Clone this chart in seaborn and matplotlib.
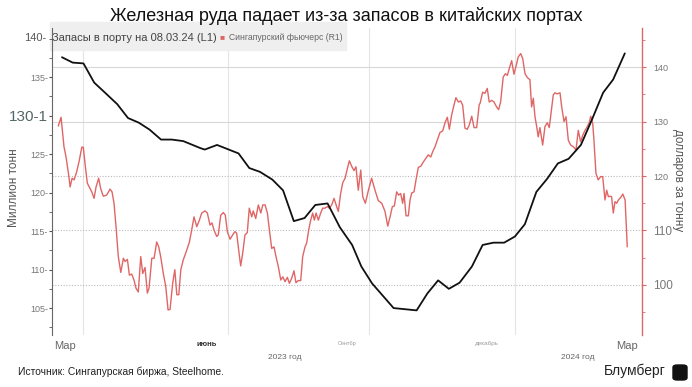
import matplotlib.pyplot as plt
from matplotlib.ticker import MultipleLocator
from matplotlib.patches import Rectangle, FancyBboxPatch
import seaborn as sns
import pandas as pd

# days are counted from 1 March 2023
stock_days = [-2, 5, 12, 19, 26, 34, 41, 48, 55, 62.5, 69.5, 77, 88, 91, 99, 113, 120, 127,
              135, 142, 149, 156, 163, 171, 179, 187, 193, 200, 207, 214, 229, 236, 243, 250,
              257, 265, 272, 279, 286, 293, 299.5, 307, 314, 321, 328, 336, 343, 350.5, 357, 364.6]
stock_values = [137.6, 136.9, 136.8, 134.3, 133.0, 131.5, 129.7, 129.1, 128.2, 126.9, 126.9, 126.7,
                125.8, 125.6, 126.2, 125.1, 123.2, 122.7, 121.7, 120.3, 116.3, 116.7, 118.4, 118.6,
                115.5, 113.2, 110.4, 108.2, 106.6, 105.0, 104.7, 106.9, 108.6, 107.5, 108.3, 110.4,
                113.2, 113.5, 113.5, 114.3, 115.9, 120.1, 121.8, 123.8, 124.4, 126.2, 129.4, 133.0,
                134.7, 138.1]

fut_days = [-4.4, -2.6, -0.7, 0.65, 2.2, 3.3, 4.6, 5.9, 7.6, 9.3, 10.9, 11.9, 13.0, 14.5, 16.3,
            17.4, 18.9, 20.2, 21.9, 23.2, 24.9, 27.1, 29.3, 30.6, 31.9, 33.2, 34.7, 36.3, 38.0,
            39.1, 40.6, 41.9, 43.4, 44.9, 46.2, 47.7, 49.3, 50.6, 52.1, 53.6, 54.7, 56.5, 58.0,
            59.7, 61.0, 62.3, 64.0, 65.6, 67.1, 68.4, 70.1, 71.5, 72.8, 74.1, 75.4, 77.0, 79.3,
            81.0, 82.3, 84.0, 85.8, 87.5,
            89.0, 91.2, 92.7, 94.4, 95.7, 97.0, 98.8, 99.8, 101.4, 103.1, 104.4, 105.7, 107.5,
            109.2, 110.7, 111.8, 113.1, 114.4, 115.7, 117.2, 118.7, 120.0, 121.6, 122.6, 124.2,
            125.9, 127.5, 128.8, 130.3, 131.8, 133.1, 134.6, 136.1, 137.4, 138.9, 140.5, 141.8,
            143.3, 144.8, 146.1, 147.6, 149.1, 150.4, 151.9, 153.5, 154.8, 156.3, 157.4, 158.7,
            160.0, 161.3, 162.4, 163.5, 165.0, 166.5, 167.8, 169.3, 170.8, 172.1, 173.7, 175.2,
            176.9,
            178.0, 179.5, 180.9, 182.4, 183.9, 185.2, 186.7, 188.2, 189.5, 191.0, 192.6, 193.9,
            195.6, 197.6, 199.7, 201.9, 204.0, 206.3, 208.4, 210.2, 211.7, 213.2, 214.5, 216.0,
            217.3, 218.6, 219.9, 220.8, 222.1, 223.6, 224.7, 225.8, 227.3, 228.6, 230.1, 231.7,
            233.4, 235.1, 236.6, 238.2, 239.5, 241.0, 242.5, 244.2, 246.0, 247.5, 249.0, 250.3,
            251.8, 253.3, 254.6, 256.2, 257.7, 259.0, 260.5, 262.0, 263.3, 264.9, 266.4, 268.1,
            269.8,
            270.3, 272.0, 273.5, 275.0, 276.3, 277.9, 279.4, 281.1, 282.4, 283.7, 285.4, 286.8,
            288.1, 289.4, 290.9, 292.4, 294.2, 295.2, 296.8, 298.1, 299.6, 301.1, 302.8, 303.9,
            305.0, 306.1, 307.2, 308.2, 309.3, 311.1, 312.6, 314.1, 315.4, 316.9, 318.0, 319.1,
            320.6, 322.4, 323.5, 325.0, 326.3, 327.8, 329.3, 331.0, 332.8, 334.3, 335.8, 337.2,
            338.7, 340.2, 341.4, 342.4, 343.7, 344.5, 345.8, 347.3, 348.9, 350.2, 351.7, 352.8,
            353.9, 355.0, 356.0, 357.1, 358.2, 359.3, 360.4, 362.0, 363.3, 364.8, 366.2]
fut_values = [129.2, 130.8, 125.4, 123.5, 120.5, 118.0, 119.6, 119.3, 120.8, 122.9, 125.3, 125.3,
              122.3, 118.7, 117.7, 117.1, 115.9, 118.0, 119.6, 117.7, 116.3, 116.5, 117.6, 117.1,
              115.0, 110.7, 105.2, 102.3, 104.9, 104.3, 104.7, 101.8, 102.0, 100.9, 99.4, 98.7,
              105.2, 102.1, 103.2, 98.5, 99.4, 104.9, 104.9, 107.9, 107.0, 105.2, 102.1, 99.7,
              95.4, 95.5, 100.3, 102.8, 98.2, 98.2, 102.8, 104.6, 106.4, 107.9, 109.8, 112.5,
              110.7, 111.9,
              113.2, 113.6, 113.2, 111.0, 111.4, 110.1, 108.9, 109.2, 112.8, 113.3, 112.8, 109.8,
              108.4, 109.2, 109.8, 109.5, 106.4, 103.5, 105.8, 109.2, 109.6, 114.1, 112.5, 113.6,
              112.2, 114.7, 113.2, 114.7, 114.7, 113.2, 110.1, 106.7, 107.0, 105.2, 103.4, 100.9,
              101.5, 100.6, 101.4, 100.3, 101.2, 102.6, 100.4, 100.8, 100.8, 105.2, 107.0, 107.7,
              110.1, 111.9, 113.2, 111.9, 113.2, 111.9, 113.2, 114.1, 114.1, 114.4, 114.1, 114.7,
              115.9, 114.4,
              113.5, 116.8, 118.8, 119.6, 121.4, 122.8, 121.8, 121.0, 121.7, 117.4, 121.1, 116.2,
              115.0, 117.4, 119.6, 117.4, 115.5, 115.0, 113.5, 110.8, 112.5, 114.4, 114.5, 117.1,
              116.5, 116.8, 115.0, 116.8, 112.7, 112.7, 115.6, 116.9, 117.1, 119.3, 121.6, 121.8,
              122.6, 123.3, 123.9, 123.5, 124.5, 125.4, 126.6, 128.0, 128.3, 129.8, 130.8, 128.6,
              131.2, 133.0, 134.4, 133.6, 133.8, 133.0, 128.8, 128.6, 129.4, 131.0, 128.9, 128.9,
              133.2,
              133.3, 135.4, 135.2, 136.1, 133.6, 133.9, 133.6, 132.7, 132.2, 133.6, 138.2, 138.8,
              138.5, 139.8, 141.2, 138.7, 140.7, 141.9, 142.5, 141.6, 138.8, 138.1, 137.7, 132.7,
              134.3, 130.9, 129.1, 127.2, 128.9, 125.7, 129.1, 129.8, 128.9, 132.4, 134.9, 135.3,
              135.1, 135.3, 132.7, 130.0, 130.9, 126.6, 125.7, 125.4, 124.8, 128.4, 126.3, 127.5,
              128.4, 129.1, 129.8, 131.0, 129.7, 126.6, 120.5, 119.3, 119.9, 119.9, 115.6, 117.4,
              116.2, 116.3, 116.2, 113.2, 115.3, 115.0, 115.6, 116.1, 116.7, 115.6, 107.0]

month_ticks = ["2023-03-01", "2023-06-01", "2023-09-01", "2023-12-01", "2024-03-01"]
month_labels = ["Мар", "июнь", "Сентбр", "декабрь", "Мар"]
grid_dates = ["2023-03-13", "2023-06-15", "2023-09-15", "2023-12-19"]
year_pos = ["2023-07-22", "2024-01-29"]
year_labels = ["2023 год", "2024 год"]
left_ticks = [105, 110, 115, 120, 125, 130, 135]
left_labels = ["105-", "110-", "115-", "120-", "125-", "130-1", "135-"]
right_ticks = [100, 110, 120, 130, 140]

base = pd.Timestamp("2023-03-01")
stocks = pd.DataFrame({"date": base + pd.to_timedelta(stock_days, unit="D"), "value": stock_values})
futures = pd.DataFrame({"date": base + pd.to_timedelta(fut_days, unit="D"), "value": fut_values})

sns.set_style("white")
plt.rcParams["font.family"] = ["Liberation Sans", "DejaVu Sans"]

red = "#e06666"
fig = plt.figure(figsize=(6.92, 3.87), dpi=100)
ax = fig.add_axes([52 / 692, 1 - 335 / 387, 590 / 692, 307 / 387])
ax2 = ax.twinx()
ax.set_zorder(ax2.get_zorder() + 1)
ax.patch.set_visible(False)

sns.lineplot(data=futures, x="date", y="value", ax=ax2, color=red, linewidth=1.0,
             estimator=None, legend=False)
sns.lineplot(data=stocks, x="date", y="value", ax=ax, color="#111111", linewidth=1.3,
             estimator=None, legend=False)

ax.set_xlim(base + pd.Timedelta(days=-8.5), base + pd.Timedelta(days=375.8))
ax.set_ylim(101.5, 141.4)
ax2.set_ylim(90.8, 147.2)

# horizontal grid from the right axis, vertical grid mid quarter
ax2.set_yticks(right_ticks)
ax2.grid(axis="y", color="#d8d8d8", linewidth=0.8)
for gl, v in zip(ax2.get_ygridlines(), right_ticks):
    if v <= 120:
        gl.set_linestyle((0, (1, 1.5)))
        gl.set_color("#bbbbbb")
for d in grid_dates:
    ax2.axvline(pd.Timestamp(d), color="#e4e4e4", linewidth=0.8, zorder=0)

for s in ["top", "bottom"]:
    ax.spines[s].set_visible(False)
    ax2.spines[s].set_visible(False)
ax2.spines["left"].set_visible(False)
ax.spines["right"].set_visible(False)
ax.spines["left"].set_color("#666666")
ax.spines["left"].set_linewidth(0.8)
ax2.spines["right"].set_color(red)
ax2.spines["right"].set_linewidth(1.0)

# left axis
ax.set_yticks(left_ticks)
ax.set_yticklabels(left_labels)
ax.yaxis.set_minor_locator(MultipleLocator(2.5))
ax.tick_params(axis="y", which="major", length=2.5, width=0.8, color="#555555",
               labelsize=6.5, labelcolor="#777777", pad=0.5)
ax.tick_params(axis="y", which="minor", length=2, width=0.6, color="#555555")
for lab in ax.get_yticklabels():
    if lab.get_text() == "130-1":
        lab.set_fontsize(11)
        lab.set_color("#556666")
ax.set_ylabel("")
ax.set_xlabel("")

# right axis
ax2.yaxis.set_minor_locator(MultipleLocator(5))
ax2.tick_params(axis="y", which="major", length=3, width=0.8, color=red,
                labelsize=6.5, labelcolor="#777777", pad=5)
ax2.tick_params(axis="y", which="minor", length=2, width=0.6, color=red)
for lab, v in zip(ax2.get_yticklabels(), right_ticks):
    if v <= 110:
        lab.set_fontsize(8.5)
ax2.set_ylabel("")
ax2.set_xlabel("")

# x axis
ax.set_xticks(pd.to_datetime(month_ticks))
ax.set_xticklabels(month_labels)
ax.tick_params(axis="x", length=0, pad=4, labelcolor="#666666", labelsize=8)
xl = ax.get_xticklabels()
xl[1].set_fontsize(5.5)
xl[1].set_fontweight("bold")
xl[1].set_color("#333333")
xl[2].set_fontsize(4)
xl[2].set_color("#999999")
xl[3].set_fontsize(4.5)
xl[3].set_color("#999999")
for d, t in zip(year_pos, year_labels):
    ax.text(pd.Timestamp(d), -0.072, t, transform=ax.get_xaxis_transform(),
            ha="center", va="center", fontsize=6, color="#666666")

# titles and notes
fig.text(0.5, 1 - 16 / 387, "Железная руда падает из-за запасов в китайских портах",
         ha="center", va="center", fontsize=13, color="#111111")
fig.text(14 / 692, 1 - 188 / 387, "Миллион тонн", rotation=90, ha="center", va="center",
         fontsize=8.5, color="#555555")
fig.text(678 / 692, 1 - 180 / 387, "долларов за тонну", rotation=-90, ha="center",
         va="center", fontsize=8.5, color="#555555")

# legend strip
fig.patches.append(Rectangle((50 / 692, 1 - 50 / 387), 296 / 692, 28 / 387,
                             transform=fig.transFigure, color="#efefef", zorder=0))
fig.text(24 / 692, 1 - 38 / 387, "140-", ha="left", va="center", fontsize=8, color="#555555")
fig.text(52 / 692, 1 - 38 / 387, "Запасы в порту на 08.03.24 (L1)", ha="left", va="center",
         fontsize=8, color="#444444")
fig.text(219 / 692, 1 - 38 / 387, "■", ha="left", va="center", fontsize=6, color=red)
fig.text(229 / 692, 1 - 38 / 387, "Сингапурский фьючерс (R1)", ha="left", va="center",
         fontsize=6.2, color="#666666")

fig.text(18 / 692, 1 - 372 / 387, "Источник: Сингапурская биржа, Steelhome.", ha="left",
         va="center", fontsize=7.4, color="#222222")
fig.text(604 / 692, 1 - 371 / 387, "Блумберг", ha="left", va="center", fontsize=10,
         color="#222222")
fig.patches.append(FancyBboxPatch((673 / 692, 1 - 380 / 387), 14 / 692, 15 / 387,
                                  boxstyle="round,pad=0,rounding_size=0.006",
                                  transform=fig.transFigure, color="#111111"))

fig.savefig("out.png", dpi=100)
